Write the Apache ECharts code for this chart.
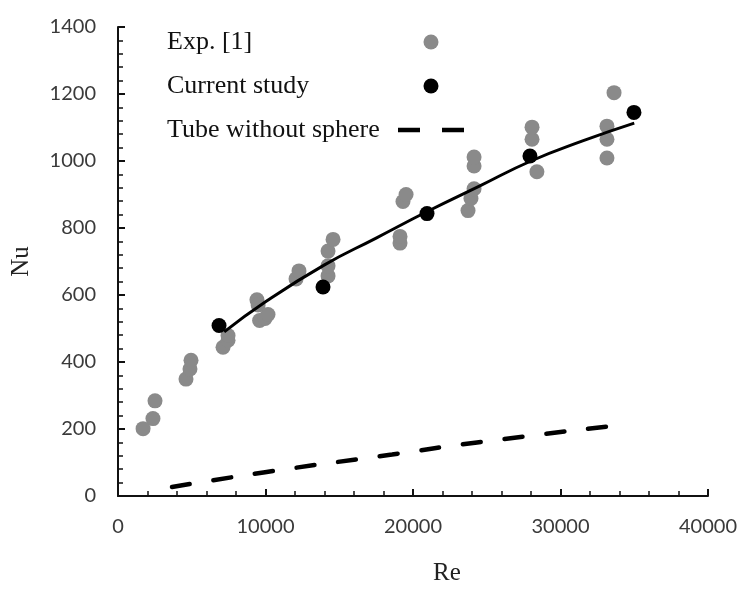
<!DOCTYPE html>
<html><head><meta charset="utf-8">
<script src="https://cdn.jsdelivr.net/npm/echarts@6/dist/echarts.min.js"></script>
<style>html,body{margin:0;padding:0;background:#fff}#c{width:740px;height:591px}</style>
</head><body><div id="c"></div>
<script>
// Exp. [1] points: [Re, Nu]
var expRe = [1700,2370,2510,4610,4880,4950,7120,7460,7460,9420,9500,9600,9970,10170,12070,12270,14240,14240,14240,14580,19120,19120,19320,19530,23730,23930,24140,24140,24140,28070,28070,28400,33150,33150,33150,33630];
var expNu = [201,231,284,349,379,405,444,465,479,586,570,524,530,542,648,672,657,687,731,766,755,775,879,900,852,888,917,985,1012,1065,1101,968,1009,1065,1104,1204];
// Current study points
var curRe = [6850,13900,20950,27930,34980];
var curNu = [509,624,843,1015,1145];
// Trend curve through current study
var fitRe = [7200,10000,14000,17500,21000,24500,28000,31500,35000];
var fitNu = [490,580,690,770,850,925,1000,1060,1113];
// Tube without sphere
var tubeRe = [3660,9970,18580,24340,33700];
var tubeNu = [27,71,124,160,210];
var names = ['Exp. [1]','Current study','Tube without sphere'];

function zip(a,b){return a.map(function(v,i){return [v,b[i]];});}

var chart = echarts.init(document.getElementById('c'), null, {renderer:'canvas'});
var labelFont = 'Lato';
chart.setOption({
  animation:false,
  grid:{left:118,right:32,top:27,bottom:90,containLabel:false},
  legend:{
    data:[
      {name:names[0]},
      {name:names[1]},
      {name:names[2], icon:'path://M0,0 L22,0 L22,4.5 L0,4.5 Z M44,0 L66,0 L66,4.5 L44,4.5 Z', itemStyle:{color:'#000'}}
    ],
    orient:'vertical', left:162, top:24, align:'right',
    itemWidth:66, itemHeight:15, itemGap:18,
    formatter:function(n){return '{t|'+n+'}';},
    textStyle:{fontFamily:'Liberation Serif',fontSize:26,color:'#111',lineHeight:26,
      rich:{t:{fontFamily:'Liberation Serif',fontSize:26,color:'#111',width:226,align:'left'}}},
    selectedMode:false
  },
  xAxis:{
    type:'value', min:0, max:40000, interval:10000,
    name:'Re', nameLocation:'middle', nameGap:65,
    nameTextStyle:{fontFamily:'Liberation Serif',fontSize:25,color:'#222',padding:[0,0,0,68]},
    axisLine:{show:true,onZero:false,lineStyle:{color:'#111',width:2}},
    axisTick:{show:true,inside:true,length:7,lineStyle:{color:'#111',width:2}},
    minorTick:{show:true,splitNumber:5,length:5,lineStyle:{color:'#111',width:1.5}},
    axisLabel:{fontFamily:labelFont,fontSize:20,color:'#3a3a3a',margin:21,formatter:function(v){return String(v);}},
    splitLine:{show:false}
  },
  yAxis:{
    type:'value', min:0, max:1400, interval:200,
    name:'Nu', nameLocation:'middle', nameGap:84, nameRotate:90,
    nameTextStyle:{fontFamily:'Liberation Serif',fontSize:25,color:'#222'},
    axisLine:{show:true,onZero:false,lineStyle:{color:'#111',width:2}},
    axisTick:{show:true,inside:true,length:7,lineStyle:{color:'#111',width:2}},
    minorTick:{show:true,splitNumber:5,length:5,lineStyle:{color:'#111',width:1.5}},
    axisLabel:{fontFamily:labelFont,fontSize:20,color:'#3a3a3a',margin:22,formatter:function(v){return String(v);}},
    splitLine:{show:false}
  },
  series:[
    {name:names[0],type:'scatter',data:zip(expRe,expNu),symbol:'circle',symbolSize:15,
     itemStyle:{color:'#8a8a8a',opacity:1},z:2},
    {name:'fit',type:'line',data:zip(fitRe,fitNu),smooth:true,showSymbol:false,symbol:'none',
     lineStyle:{color:'#000',width:3},itemStyle:{color:'#000'},z:4},
    {name:names[1],type:'scatter',data:zip(curRe,curNu),symbol:'circle',symbolSize:15,
     itemStyle:{color:'#000',opacity:1},z:5},
    {name:names[2],type:'line',data:zip(tubeRe,tubeNu),smooth:true,showSymbol:false,symbol:'none',
     itemStyle:{color:'#000'},
     lineStyle:{color:'#000',width:4.5,type:[18,24],cap:'round'},z:3}
  ]
});
</script></body></html>
